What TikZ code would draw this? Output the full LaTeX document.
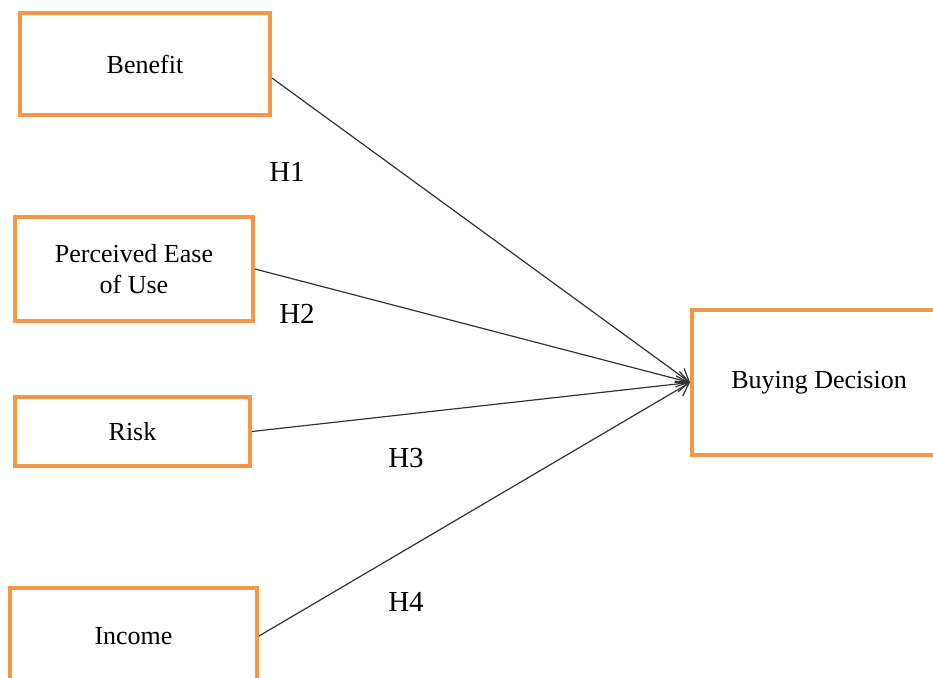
\documentclass[tikz,border=0pt]{standalone}
\usepackage{fontspec}
\setmainfont{Liberation Serif}
\usetikzlibrary{arrows.meta,positioning}
\definecolor{boxorange}{HTML}{F79646}
\definecolor{linegray}{HTML}{333333}

\begin{document}
\begin{tikzpicture}[x=0.5pt,y=-0.5pt,
  every node/.style={font=\fontsize{13}{15.5}\selectfont},
  varbox/.style={draw=boxorange, line width=2pt, fill=white, align=center, inner sep=0pt},
  hyp/.style={font=\fontsize{14.5}{17}\selectfont},
  path/.style={draw=linegray, line width=0.6pt, -{Straight Barb[length=6pt,width=8pt]}}]
  % Define frame
  \useasboundingbox (0,0) rectangle (933,677);
  \clip (0,0) rectangle (933,677);

  % Draw variable boxes
  \node[varbox, minimum width=125pt, minimum height=51pt] (benefit) at (145,64) {Benefit};
  \node[varbox, minimum width=119pt, minimum height=52pt] (ease) at (134,269) {Perceived Ease\\of Use};
  \node[varbox, minimum width=117.5pt, minimum height=34.5pt] (risk) at (132.5,431.5) {Risk};
  \node[varbox, minimum width=123.5pt, minimum height=48pt] (income) at (133.5,636) {Income};
  \node[varbox, minimum width=127pt, minimum height=72.5pt] (buying) at (819,382.5) {Buying Decision};

  % Hypothesis paths
  \draw[path] ([yshift=-7pt]benefit.east) -- (buying.west);
  \draw[path] (ease.east) -- (buying.west);
  \draw[path] (risk.east) -- (buying.west);
  \draw[path] (income.east) -- (buying.west);

  % Labels for hypotheses
  \node[hyp] (h1) at (287,172) {H1};
  \node[hyp] (h2) at (297,314) {H2};
  \node[hyp] (h3) at (406,458) {H3};
  \node[hyp] (h4) at (406,602) {H4};
\end{tikzpicture}
\end{document}
